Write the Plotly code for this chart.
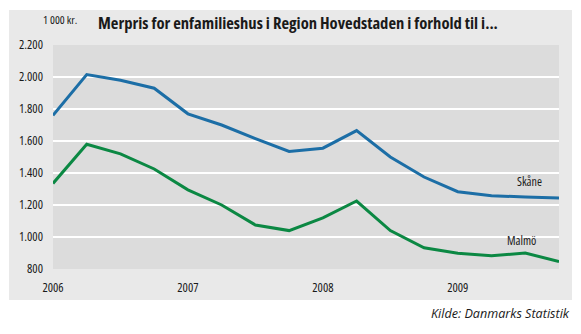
import plotly.graph_objects as go

# Quarterly observations, 2006 Q1 - 2009 Q4
quarters = [f"{y}K{q}" for y in (2006, 2007, 2008, 2009) for q in (1, 2, 3, 4)]
skane = [1760, 2015, 1980, 1930, 1770, 1700, 1615, 1535,
         1555, 1665, 1500, 1375, 1283, 1258, 1250, 1244]
malmo = [1335, 1580, 1520, 1425, 1295, 1200, 1075, 1040,
         1120, 1225, 1040, 933, 898, 883, 900, 846]
year_ticks = ["2006K1", "2007K1", "2008K1", "2009K1"]
year_labels = ["2006", "2007", "2008", "2009"]
y_ticks = [800, 1000, 1200, 1400, 1600, 1800, 2000, 2200]

BLUE = "#1C6EA6"
GREEN = "#0B8843"
INK = "#1a1a1a"
FONT = "Open Sans, DejaVu Sans Condensed, sans-serif"


def narrow(text):
    """Render a string in the condensed face of the font."""
    return f"<span style='font-stretch:condensed'>{text}</span>"


def thousands(v):
    return f"{v:,}".replace(",", ".")


fig = go.Figure()
fig.add_trace(go.Scatter(x=quarters, y=skane, mode="lines", name="Skåne",
                         line=dict(color=BLUE, width=3), hoverinfo="skip"))
fig.add_trace(go.Scatter(x=quarters, y=malmo, mode="lines", name="Malmö",
                         line=dict(color=GREEN, width=3), hoverinfo="skip"))

W, H = 581, 334
L, R, T, B = 53, 22, 45, 65
pw, ph = W - L - R, H - T - B


def px(xp):
    return (xp - L) / pw


def py(yp):
    return (H - B - yp) / ph


fig.update_layout(
    width=W, height=H,
    margin=dict(l=L, r=R, t=T, b=B, pad=0),
    paper_bgcolor="white",
    plot_bgcolor="rgba(0,0,0,0)",
    showlegend=False,
    font=dict(family=FONT, size=12, color=INK),
    shapes=[
        # outer grey panel
        dict(type="rect", xref="paper", yref="paper", layer="below",
             x0=px(9), x1=px(572), y0=py(300), y1=py(10),
             fillcolor="#E9E9E9", line=dict(width=0)),
        # plotting area
        dict(type="rect", xref="paper", yref="paper", layer="below",
             x0=0, x1=1, y0=0, y1=1,
             fillcolor="#DCDCDC", line=dict(width=0)),
    ],
    annotations=[
        dict(text=narrow("<b>Merpris for enfamilieshus i Region Hovedstaden i forhold til i...</b>"),
             xref="paper", yref="paper", x=px(96), y=py(23),
             xanchor="left", yanchor="middle", showarrow=False,
             font=dict(family=FONT, size=16.6, color=INK)),
        dict(text=narrow("1 000 kr."), xref="paper", yref="paper", x=px(79), y=py(19.5),
             xanchor="right", yanchor="middle", showarrow=False,
             font=dict(family=FONT, size=11.5, color=INK)),
        dict(text="<i>Kilde: Danmarks Statistik</i>", xref="paper", yref="paper",
             x=px(572), y=py(313), xanchor="right", yanchor="middle", showarrow=False,
             font=dict(family=FONT, size=12.6, color=INK)),
        dict(text=narrow("Skåne"), xref="x", yref="y", x=14.12, y=1350,
             xanchor="center", yanchor="middle", showarrow=False,
             font=dict(family=FONT, size=12, color=INK)),
        dict(text=narrow("Malmö"), xref="x", yref="y", x=13.89, y=978,
             xanchor="center", yanchor="middle", showarrow=False,
             font=dict(family=FONT, size=12, color=INK)),
    ],
)

fig.update_xaxes(
    type="category", range=[0, len(quarters) - 1],
    tickmode="array", tickvals=year_ticks,
    ticktext=[narrow(t) for t in year_labels],
    showgrid=False, zeroline=False, showline=False,
    ticks="", ticklabelstandoff=9,
    tickfont=dict(family=FONT, size=12.5, color=INK),
)
fig.update_yaxes(
    range=[800, 2200], tickmode="array", tickvals=y_ticks,
    ticktext=[narrow(thousands(v)) for v in y_ticks],
    showgrid=True, gridcolor="white", gridwidth=1.5,
    zeroline=False, showline=False, ticks="", ticklabelstandoff=9,
    tickfont=dict(family=FONT, size=12.5, color=INK),
)

fig.write_html("out.html")
